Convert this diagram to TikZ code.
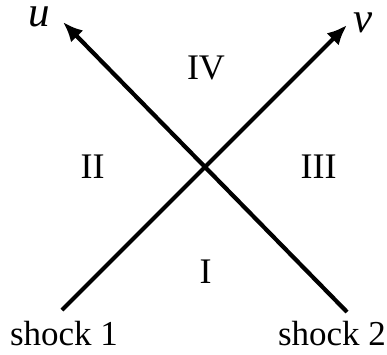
\documentclass[tikz,border=0pt]{standalone}
\usepackage{fontspec}
\setmainfont{Liberation Serif}
\usetikzlibrary{arrows.meta}

\begin{document}
\begin{tikzpicture}[
  x=1pt, y=1pt,
  shockline/.style={line width=4.2pt, -{Latex[length=20pt,width=17pt]}},
  region/.style={font=\fontsize{36}{40}\selectfont, inner sep=0pt},
  lbl/.style={font=\fontsize{35}{40}\selectfont, inner sep=0pt, anchor=base},
  axlbl/.style={font=\fontsize{43}{46}\selectfont\itshape, inner sep=0pt,
    anchor=base, text height=21pt, text depth=0pt}
]
  \useasboundingbox (0,0) rectangle (387,354);

  % punti dei due urti
  \coordinate (s1) at (62,44);
  \coordinate (s2) at (347,42);
  \coordinate (v) at (347,329);
  \coordinate (u) at (63,332);

  % linee degli urti
  \draw[shockline] (s1) -- (v);
  \draw[shockline] (s2) -- (u);

  % etichette
  \node[axlbl] (ulbl) at (39,327) {u};
  \node[axlbl] (vlbl) at (363,321) {v};
  \node[lbl] (shock1) at (64,9) {shock 1};
  \node[lbl] (shock2) at (332,9) {shock 2};

  % regioni
  \node[region] (r4) at (206,286.5) {IV};
  \node[region] (r2) at (92.5,187.5) {II};
  \node[region] (r3) at (318.5,187.5) {III};
  \node[region] (r1) at (205.5,82.5) {I};
\end{tikzpicture}
\end{document}
